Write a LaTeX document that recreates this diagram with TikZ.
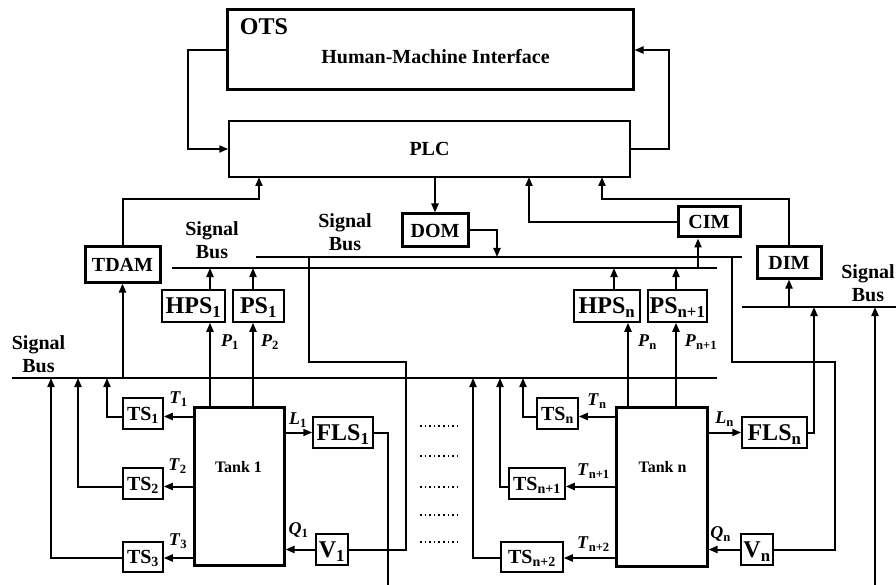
\documentclass[tikz,border=0pt]{standalone}
\usepackage{fontspec}
\setmainfont{Liberation Serif}
\usetikzlibrary{arrows.meta}
\newcommand\vlab[2]{\textit{#1}\textsubscript{\upshape#2}}
\newcommand\fsz[1]{\fontsize{#1}{#1}\selectfont}
\begin{document}
\begin{tikzpicture}[x=1pt,y=-1pt,
  every node/.style={font=\bfseries},
  box/.style={draw, line width=1.5pt, inner sep=0pt, align=center},
  tbox/.style={draw, line width=3pt, inner sep=0pt},
  big/.style={font=\bfseries\fsz{24}, text depth=0pt},
  sens/.style={font=\bfseries\fsz{20}, text depth=0pt},
  mid/.style={font=\bfseries\fsz{20}},
  conn/.style={line width=2pt},
  arr/.style={conn, -{Triangle[length=9pt,width=7pt]}},
  bus/.style={line width=2pt},
  dots/.style={line width=2.2pt, dash pattern=on 1.6pt off 3pt},
  lab/.style={font=\bfseries\fsz{18}, inner sep=0pt, text depth=0pt},
  sig/.style={font=\bfseries\fontsize{20}{23}\selectfont, align=center, inner sep=0pt},
]
\useasboundingbox (0,0) rectangle (896,585);

% ---- top boxes
\node[tbox, minimum width=406, minimum height=80] (ots) at (430,50) {};
\node[font=\bfseries\fsz{24}, inner sep=0pt] (otsl) at (264,27) {OTS};
\node[mid, inner sep=0pt] (hmi) at (435.5,57) {Human-Machine Interface};
\node[box, mid, minimum width=401, minimum height=56] (plc) at (429.5,149) {PLC};
\node[tbox, mid, minimum width=75, minimum height=35] (tdam) at (122.5,264.5) {TDAM};
\node[tbox, mid, minimum width=66, minimum height=33] (dom) at (435,230.5) {DOM};
\node[tbox, mid, minimum width=62, minimum height=30] (cim) at (709,222) {CIM};
\node[tbox, mid, minimum width=64, minimum height=31] (dim) at (789,262.5) {DIM};

% ---- sensors
\node[box, big, minimum width=63, minimum height=32] (hps1) at (193.5,306) {HPS\textsubscript{1}};
\node[box, big, minimum width=51, minimum height=32] (ps1) at (258.5,306) {PS\textsubscript{1}};
\node[box, big, minimum width=66, minimum height=32] (hpsn) at (607,306) {HPS\textsubscript{n}};
\node[box, big, minimum width=59, minimum height=32] (psn1) at (677.5,306) {PS\textsubscript{n+1}};

\node[tbox, minimum width=90, minimum height=158] (tank1) at (239,486) {};
\node[tbox, minimum width=91, minimum height=159] (tankn) at (661.5,486.5) {};
\node[font=\bfseries\fsz{16}, inner sep=0pt] (tank1l) at (238.5,467) {Tank 1};
\node[font=\bfseries\fsz{16}, inner sep=0pt] (tanknl) at (662.5,467) {Tank n};

\node[box, sens, minimum width=40, minimum height=31] (ts1) at (143,413.5) {TS\textsubscript{1}};
\node[box, sens, minimum width=40, minimum height=31] (ts2) at (143,483.5) {TS\textsubscript{2}};
\node[box, sens, minimum width=40, minimum height=30] (ts3) at (143,557) {TS\textsubscript{3}};
\node[box, sens, minimum width=41, minimum height=31] (tsn) at (557.5,413.5) {TS\textsubscript{n}};
\node[box, sens, minimum width=56, minimum height=31] (tsn1) at (537,483.5) {TS\textsubscript{n+1}};
\node[box, sens, minimum width=62, minimum height=30] (tsn2) at (532,557) {TS\textsubscript{n+2}};

\node[box, big, minimum width=60, minimum height=31] (fls1) at (343,432.5) {FLS\textsubscript{1}};
\node[box, big, minimum width=65, minimum height=31] (flsn) at (774.5,432.5) {FLS\textsubscript{n}};
\node[box, big, minimum width=32, minimum height=31] (v1) at (332,549.5) {V\textsubscript{1}};
\node[box, big, minimum width=32, minimum height=31] (vn) at (757,549.5) {V\textsubscript{n}};

% ---- signal bus labels
\node[sig] (sb0) at (38.5,354) {Signal\\Bus};
\node[sig] (sb1) at (212,240) {Signal\\Bus};
\node[sig] (sb2) at (345,232) {Signal\\Bus};
\node[sig] (sb3) at (868,283) {Signal\\Bus};

% ---- variable labels
\node[lab] at (178.5,398) {\vlab{T}{1}};
\node[lab] at (177.5,465) {\vlab{T}{2}};
\node[lab] at (178,540) {\vlab{T}{3}};
\node[lab] at (298,419) {\vlab{L}{1}};
\node[lab] at (298.5,529) {\vlab{Q}{1}};
\node[lab] at (230,341) {\vlab{P}{1}};
\node[lab] at (270,341) {\vlab{P}{2}};
\node[lab] at (597,400) {\vlab{T}{n}};
\node[lab] at (593.5,470) {\vlab{T}{n+1}};
\node[lab] at (593.5,543) {\vlab{T}{n+2}};
\node[lab] at (724.5,418) {\vlab{L}{n}};
\node[lab] at (720.5,533) {\vlab{Q}{n}};
\node[lab] at (647.5,341) {\vlab{P}{n}};
\node[lab] at (701,341) {\vlab{P}{n+1}};

% ---- coordinates
\coordinate (mbL) at (12,378);   \coordinate (mbR) at (717,378);
\coordinate (b1L) at (256,257);  \coordinate (b1R) at (742,257);
\coordinate (b2L) at (172,268);  \coordinate (b2R) at (717,268);
\coordinate (b3L) at (742,307);  \coordinate (b3R) at (896,307);
\coordinate (pA) at (259,177); \coordinate (pC) at (529,177); \coordinate (pD) at (602,177);
\coordinate (b1dom) at (497,257);
\coordinate (b2cim) at (698,268);
\coordinate (b3dim) at (789,307);
\coordinate (b3f) at (814,307);
\coordinate (b3e) at (875,307);
\coordinate (e1) at (388,585); \coordinate (e2) at (875,585);
\coordinate (b1v1) at (309,257); \coordinate (c1) at (406,362);
\coordinate (b1vn) at (732,257); \coordinate (c2) at (835,362);
\coordinate (m1) at (122.5,378);
\coordinate (mt1) at (107,378); \coordinate (mt2) at (78,378); \coordinate (mt3) at (51,378);
\coordinate (mtn) at (523,378); \coordinate (mtn1) at (500,378); \coordinate (mtn2) at (473,378);
\coordinate (b2h1) at (210,268); \coordinate (b2p1) at (253,268);
\coordinate (b2hn) at (614,268); \coordinate (b2pn) at (676,268);
\coordinate (pnx) at (628,407);

% ---- buses
\draw[bus] (mbL) -- (mbR);
\draw[bus] (b1L) -- (b1R);
\draw[bus] (b2L) -- (b2R);
\draw[bus] (b3L) -- (b3R);

% ---- top connectors
\draw[arr] (ots.west) -- ++(-38,0) |- (plc.west);
\draw[arr] (plc.east) -- ++(38,0) |- (ots.east);
\draw[arr] (tdam.north) |- ([yshift=-22pt]pA) -- (pA);
\draw[arr] (plc.south -| dom.north) -- (dom.north);
\draw[arr] (dom.east) -| (b1dom);
\draw[arr] (cim.west) -| (pC);
\draw[arr] (b2cim) -- (b2cim |- cim.south);
\draw[arr] (dim.north) |- ([yshift=-22pt]pD) -- (pD);
\draw[arr] (b3dim) -- (dim.south);
\draw[arr] (m1) -- (tdam.south);

% ---- pressure sensors
\draw[arr] (b2h1 |- hps1.north) -- (b2h1);
\draw[arr] (b2p1 |- ps1.north) -- (b2p1);
\draw[arr] (b2hn |- hpsn.north) -- (b2hn);
\draw[arr] (b2pn |- psn1.north) -- (b2pn);
\draw[arr] (tank1.north -| b2h1) -- (b2h1 |- hps1.south);
\draw[arr] (tank1.north -| b2p1) -- (b2p1 |- ps1.south);
\draw[arr] (pnx) -- (pnx |- hpsn.south);
\draw[arr] (tankn.north -| b2pn) -- (b2pn |- psn1.south);

% ---- temperature sensors
\path ([yshift=-3pt]ts1.east) coordinate (ts1e) ([yshift=-3pt]ts1.west) coordinate (ts1w)
      ([yshift=-3pt]ts2.east) coordinate (ts2e) ([yshift=-3pt]ts2.west) coordinate (ts2w)
      ([yshift=-1pt]ts3.east) coordinate (ts3e) ([yshift=-1pt]ts3.west) coordinate (ts3w)
      ([yshift=-3pt]tsn.east) coordinate (tsne) ([yshift=-3pt]tsn.west) coordinate (tsnw)
      ([yshift=-3pt]tsn1.east) coordinate (tsn1e) ([yshift=-3pt]tsn1.west) coordinate (tsn1w)
      ([yshift=-1pt]tsn2.east) coordinate (tsn2e) ([yshift=-1pt]tsn2.west) coordinate (tsn2w);
\draw[arr] (tank1.west |- ts1e) -- (ts1e);
\draw[arr] (tank1.west |- ts2e) -- (ts2e);
\draw[arr] (tank1.west |- ts3e) -- (ts3e);
\draw[arr] (tankn.west |- tsne) -- (tsne);
\draw[arr] (tankn.west |- tsn1e) -- (tsn1e);
\draw[arr] (tankn.west |- tsn2e) -- (tsn2e);
\draw[arr] (ts1w) -| (mt1);
\draw[arr] (ts2w) -| (mt2);
\draw[arr] (ts3w) -| (mt3);
\draw[arr] (tsnw) -| (mtn);
\draw[arr] (tsn1w) -| (mtn1);
\draw[arr] (tsn2w) -| (mtn2);

% ---- level sensors and valves
\draw[arr] (tank1.east |- fls1.west) -- (fls1.west);
\draw[arr] (tankn.east |- flsn.west) -- (flsn.west);
\draw[arr] (v1.west) -- (tank1.east |- v1.west);
\draw[arr] (vn.west) -- (tankn.east |- vn.west);
\draw[conn] (fls1.east) -| (e1);
\draw[arr] (flsn.east) -| (b3f);
\draw[arr] (e2) -- (b3e);
\draw[conn] (b1v1) |- (c1) |- (v1.east);
\draw[conn] (b1vn) |- (c2) |- (vn.east);

% ---- dotted continuation
\foreach \yy in {426,456,487,515,542} \draw[dots] (420,\yy) -- (460,\yy);
\end{tikzpicture}
\end{document}
